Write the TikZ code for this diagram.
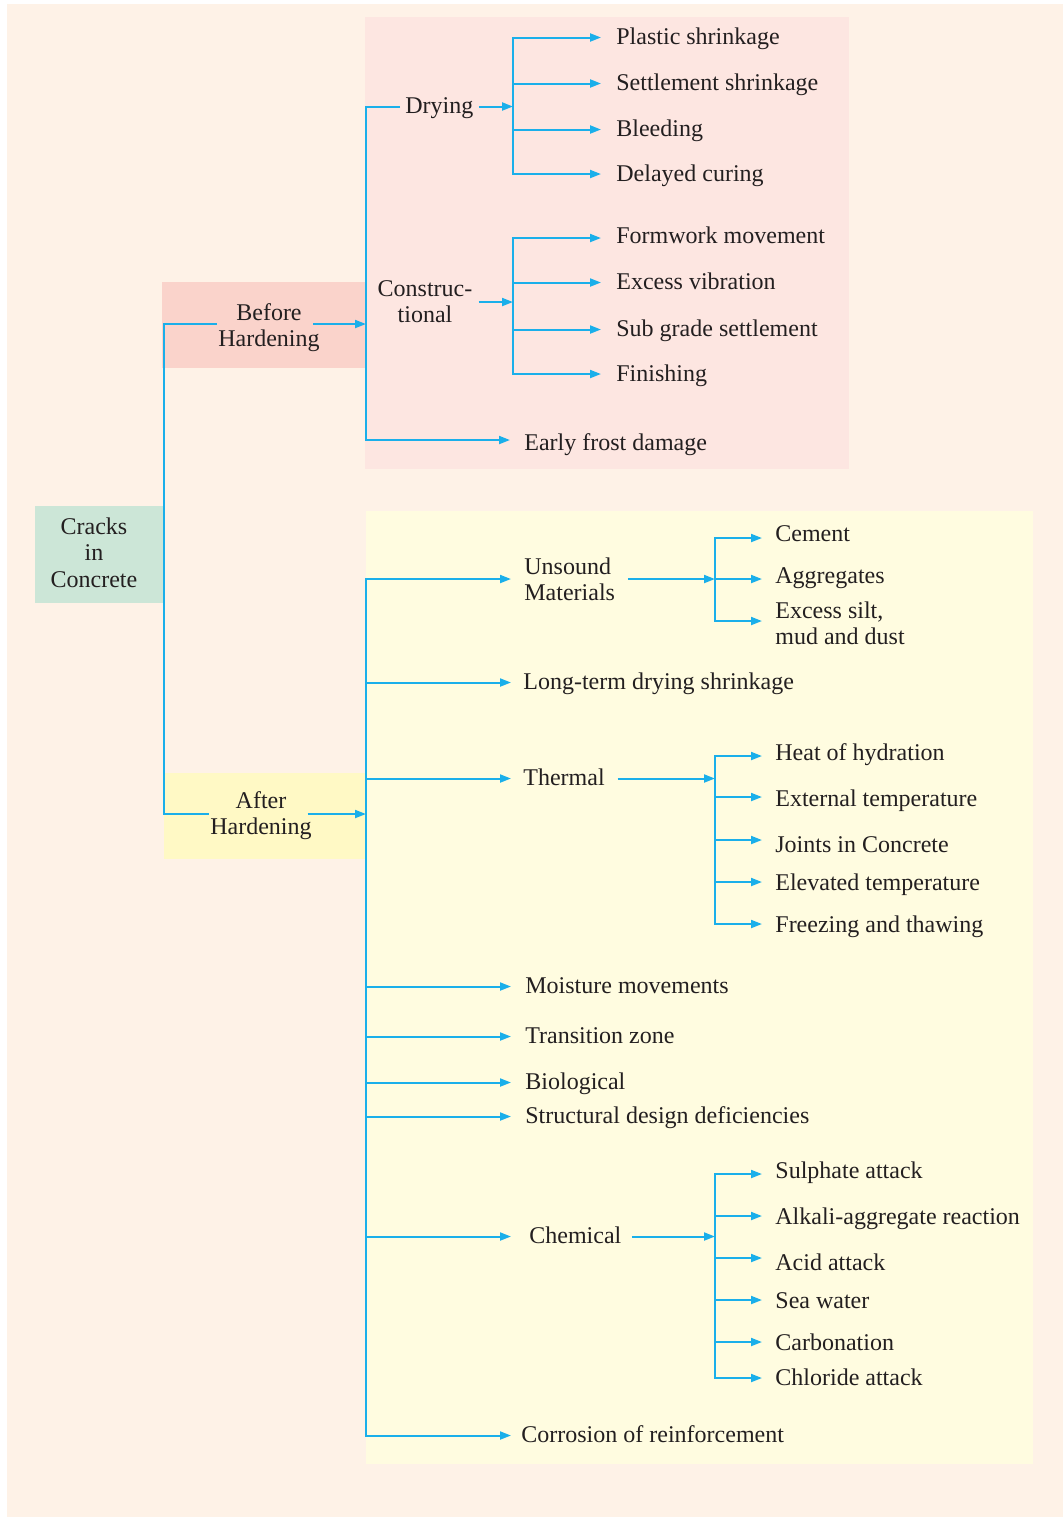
\documentclass[tikz,border=0pt]{standalone}
\usepackage{fontspec}
\setmainfont{Liberation Serif}
\usetikzlibrary{arrows.meta,calc}
\definecolor{peach}{HTML}{FEF2E7}
\definecolor{pinkbg}{HTML}{FDE6E1}
\definecolor{yelbg}{HTML}{FFFCE0}
\definecolor{bhbg}{HTML}{FAD3CB}
\definecolor{ahbg}{HTML}{FFF9C5}
\definecolor{ccbg}{HTML}{CCE6D7}
\definecolor{cy}{HTML}{1AAFEA}
\definecolor{txt}{HTML}{231F20}
\tikzset{
  ln/.style={draw=cy, line width=1pt},
  vln/.style={ln, line cap=rect},
  arr/.style={ln, -{Triangle[length=5.5pt,width=4pt]}},
  lbl/.style={anchor=base west, inner sep=0pt, text=txt, font=\fontsize{12}{13.3}\selectfont, text height=8.5pt, text depth=2pt},
  mlbl/.style={inner sep=0pt, text=txt, font=\fontsize{12}{13.3}\selectfont},
}
\newcommand\brarr[5]{%
  \coordinate (#2) at ($(#5.west)+(0,#1)$);
  \draw[arr] (#3 |- #2) -- (#4 |- #2);}
\begin{document}
\begin{tikzpicture}[x=0.5pt,y=-0.5pt]
\useasboundingbox (0,0) rectangle (1063,1517);
\fill[white] (0,0) rectangle (1063,1517);
\fill[peach] (7,4) rectangle (1063,1517);
\fill[pinkbg] (365,17) rectangle (849,469);
\fill[yelbg] (366,511) rectangle (1033,1464);
\fill[bhbg] (162,282) rectangle (366,368);
\fill[ahbg] (164,773) rectangle (366,859);
\fill[ccbg] (35,506) rectangle (164,603);

% junction x positions
\coordinate (tr) at (164,0);
\coordinate (bv) at (366,0);
\coordinate (av) at (366,0);
\coordinate (dv) at (513,0);
\coordinate (dt) at (601,0);
\coordinate (bt) at (510,0);
\coordinate (at) at (511,0);
\coordinate (uv) at (715,0);
\coordinate (ut) at (762,0);

% main nodes
\node[mlbl,align=center] (cc) at (94,555.3) {Cracks\strut\\in\strut\\Concrete\strut};
\node[mlbl,align=center] (bh) at (269,328) {Before\strut\\Hardening\strut};
\node[mlbl,align=center] (ah) at (261,816) {After\strut\\Hardening\strut};

% before hardening
\node[lbl] (dry) at (405,113) {Drying};
\node[mlbl,align=center] (con) at (425,304) {Construc-\strut\\tional\strut};
\node[lbl] (ps) at (616,44) {Plastic shrinkage};
\node[lbl] (ss) at (616,90) {Settlement shrinkage};
\node[lbl] (bl) at (616,136) {Bleeding};
\node[lbl] (dc) at (616,181.5) {Delayed curing};
\node[lbl] (fm) at (616,243) {Formwork movement};
\node[lbl] (ev) at (616,289) {Excess vibration};
\node[lbl] (sg) at (616,336) {Sub grade settlement};
\node[lbl] (fi) at (616,381.5) {Finishing};
\node[lbl] (ef) at (524,450) {Early frost damage};

% after hardening
\node[mlbl,align=left,anchor=west] (um) at (524,582) {Unsound\strut\\Materials\strut};
\node[lbl] (lt) at (523,689) {Long-term drying shrinkage};
\node[lbl] (th) at (523,785) {Thermal};
\node[lbl] (mm) at (525,993) {Moisture movements};
\node[lbl] (tz) at (525,1043) {Transition zone};
\node[lbl] (bi) at (525,1089) {Biological};
\node[lbl] (sd) at (525,1123) {Structural design deficiencies};
\node[lbl] (ch) at (529,1243) {Chemical};
\node[lbl] (cr) at (521,1442) {Corrosion of reinforcement};

\node[lbl] (ce) at (775,541) {Cement};
\node[lbl] (ag) at (775,583) {Aggregates};
\node[mlbl,align=left,anchor=west] (es) at (775,626) {Excess silt,\strut\\mud and dust\strut};

\node[lbl] (ho) at (775,760) {Heat of hydration};
\node[lbl] (et) at (775,806) {External temperature};
\node[lbl] (jc) at (775,852) {Joints in Concrete};
\node[lbl] (el) at (775,890) {Elevated temperature};
\node[lbl] (fz) at (775,932) {Freezing and thawing};

\node[lbl] (sa) at (775,1178) {Sulphate attack};
\node[lbl] (aa) at (775,1224) {Alkali-aggregate reaction};
\node[lbl] (ac) at (775,1270) {Acid attack};
\node[lbl] (sw) at (775,1308) {Sea water};
\node[lbl] (cb) at (775,1350) {Carbonation};
\node[lbl] (cl) at (775,1385) {Chloride attack};

% trunk
\coordinate (bhy) at ($(bh.center)+(0,-4)$);
\coordinate (ahy) at ($(ah.center)+(0,-2)$);
\draw[ln] ($(bhy -| bh.west)+(-1,0)$) -- (tr |- bhy) -- (tr |- ahy) -- ($(ahy -| ah.west)+(-0.5,0)$);
\draw[arr] ($(bhy -| bh.east)+(-7,0)$) -- (bv |- bhy);
\draw[arr] ($(ahy -| ah.east)+(-4.5,0)$) -- (av |- ahy);

% before hardening connectors
\coordinate (efa) at ($(ef.west)+(0,-3.5)$);
\draw[arr] ($(dry.west)+(-5,0)$) -- (bv |- dry.west) -- (bv |- efa) -- (bt |- efa);
\draw[arr] ($(dry.east)+(5,0)$) -- (dv |- dry.east);
\brarr{0}{psa}{dv}{dt}{ps}
\brarr{0}{ssa}{dv}{dt}{ss}
\brarr{0}{bla}{dv}{dt}{bl}
\brarr{-1}{dca}{dv}{dt}{dc}
\draw[vln] (dv |- psa) -- (dv |- dca);
\coordinate (cony) at ($(con.center)+(0,-2)$);
\draw[arr] ($(cony -| con.east)+(6,0)$) -- (dv |- cony);
\brarr{1.5}{fma}{dv}{dt}{fm}
\brarr{0}{eva}{dv}{dt}{ev}
\brarr{0}{sga}{dv}{dt}{sg}
\brarr{-1}{fia}{dv}{dt}{fi}
\draw[vln] (dv |- fma) -- (dv |- fia);

% after hardening connectors
\brarr{-3}{uma}{av}{at}{um}
\brarr{0}{lta}{av}{at}{lt}
\brarr{0}{tha}{av}{at}{th}
\brarr{0}{mma}{av}{at}{mm}
\brarr{0}{tza}{av}{at}{tz}
\brarr{0}{bia}{av}{at}{bi}
\brarr{0}{sda}{av}{at}{sd}
\brarr{0}{cha}{av}{at}{ch}
\brarr{0}{cra}{av}{at}{cr}
\draw[vln] (av |- uma) -- (av |- cra);

\draw[arr] ($(uma -| um.east)+(12.5,0)$) -- (uv |- uma);
\brarr{3.5}{cea}{uv}{ut}{ce}
\brarr{2.5}{aga}{uv}{ut}{ag}
\brarr{-5}{esa}{uv}{ut}{es}
\draw[vln] (uv |- cea) -- (uv |- esa);

\draw[arr] ($(tha -| th.east)+(12.5,0)$) -- (uv |- tha);
\brarr{2.5}{hoa}{uv}{ut}{ho}
\brarr{-2.5}{eta}{uv}{ut}{et}
\brarr{-5.5}{jca}{uv}{ut}{jc}
\brarr{-1.5}{ela}{uv}{ut}{el}
\brarr{-1.5}{fza}{uv}{ut}{fz}
\draw[vln] (uv |- hoa) -- (uv |- fza);

\draw[arr] ($(cha -| ch.east)+(10,0)$) -- (uv |- cha);
\brarr{2.5}{saa}{uv}{ut}{sa}
\brarr{-1.5}{aaa}{uv}{ut}{aa}
\brarr{-5.5}{aca}{uv}{ut}{ac}
\brarr{-1.5}{swa}{uv}{ut}{sw}
\brarr{-1.5}{cba}{uv}{ut}{cb}
\brarr{-0.5}{cla}{uv}{ut}{cl}
\draw[vln] (uv |- saa) -- (uv |- cla);
\end{tikzpicture}
\end{document}
